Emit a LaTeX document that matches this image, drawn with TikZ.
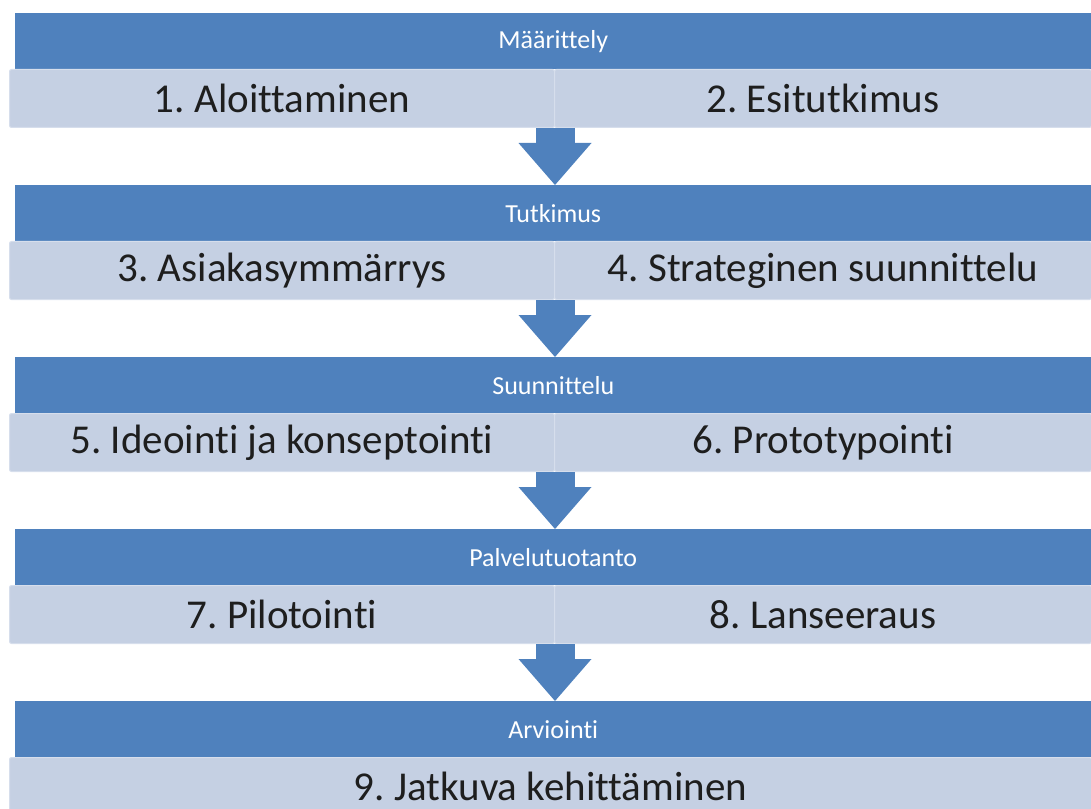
\documentclass[tikz,border=0pt]{standalone}
\usepackage{fontspec}
\setmainfont{Carlito}[Ligatures=NoCommon]
\frenchspacing
\usetikzlibrary{arrows.meta,calc}
\definecolor{barblue}{RGB}{79,129,189}
\definecolor{barlight}{RGB}{197,208,227}
\definecolor{baredge}{RGB}{214,222,236}
\definecolor{txtdark}{RGB}{30,30,30}
\tikzset{
  hdr/.style={fill=barblue, draw=none, anchor=north west, inner sep=0pt,
    minimum width=807pt, minimum height=42pt, text=white,
    font=\fontsize{19.5pt}{21pt}\selectfont},
  cell/.style={fill=barlight, draw=baredge, line width=0.75pt, rounded corners=1.5pt,
    anchor=north west, inner sep=0pt, minimum height=43.5pt, text=txtdark,
    font=\fontsize{30.75pt}{33pt}\selectfont},
  lcell/.style={cell, minimum width=408.75pt},
  rcell/.style={cell, minimum width=402.75pt},
  fcell/.style={cell, minimum width=811.5pt},
  flow/.style={draw=barblue, line width=29.25pt,
    -{Triangle[width=54.75pt, length=31.5pt, line width=0pt]}},
}
\begin{document}
\begin{tikzpicture}[x=0.75pt,y=-0.75pt]
\useasboundingbox (0,0) rectangle (1091,809);
% row 1
\node[hdr] (h1) at (15,13) {Määrittely};
\node[lcell] (a1) at (9,69) {1. Aloittaminen};
\node[rcell] (b1) at (554,69) {2. Esitutkimus};
% row 2
\node[hdr] (h2) at (15,185) {Tutkimus};
\node[lcell] (a2) at (9,241) {3. Asiakasymmärrys};
\node[rcell] (b2) at (554,241) {4. Strateginen suunnittelu};
% row 3
\node[hdr] (h3) at (15,357) {Suunnittelu};
\node[lcell] (a3) at (9,413) {5. Ideointi ja konseptointi};
\node[rcell] (b3) at (554,413) {6. Prototypointi};
% row 4
\node[hdr] (h4) at (15,529) {Palvelutuotanto};
\node[lcell] (a4) at (9,585) {7. Pilotointi};
\node[rcell] (b4) at (554,585) {8. Lanseeraus};
% row 5
\node[hdr] (h5) at (15,701) {Arviointi};
\node[fcell] (c5) at (9,757) {9. Jatkuva kehittäminen};
% arrows
\draw[flow] (a1.south east) -- (a1.south east |- h2.north);
\draw[flow] (a2.south east) -- (a2.south east |- h3.north);
\draw[flow] (a3.south east) -- (a3.south east |- h4.north);
\draw[flow] (a4.south east) -- (a4.south east |- h5.north);
\end{tikzpicture}
\end{document}
